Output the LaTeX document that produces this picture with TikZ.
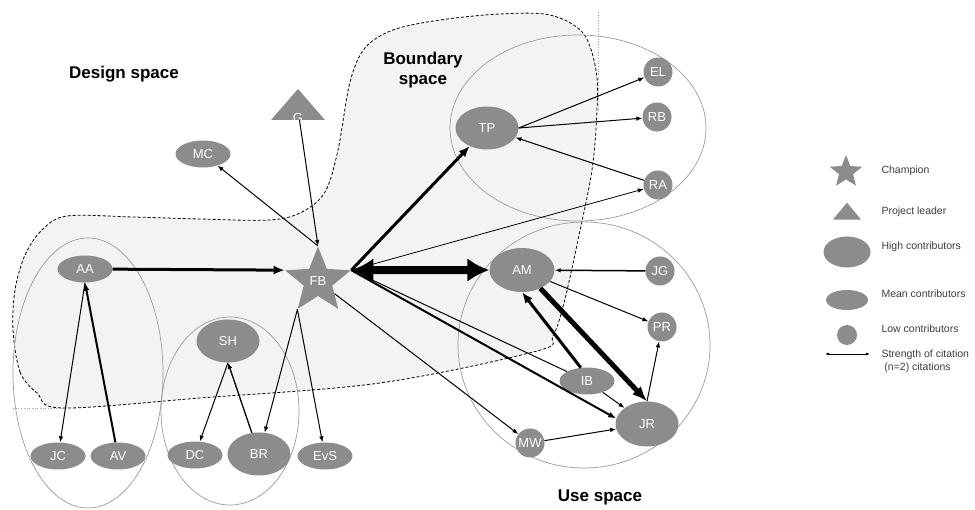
\documentclass[tikz,border=0pt]{standalone}
\usepackage{fontspec}
\setmainfont{Liberation Sans}
\usepackage{xcolor}
\usepackage{tikz}
\usetikzlibrary{shapes.geometric,arrows.meta}

\definecolor{nodegray}{RGB}{140,140,140}
\definecolor{linegray}{RGB}{155,155,155}
\definecolor{zonegray}{RGB}{243,243,243}
\definecolor{textgray}{RGB}{60,60,60}

\begin{document}
\begin{tikzpicture}[
    x=1pt, y=-1pt,
    actor/.style={fill=nodegray, text=white, inner sep=0pt, font=\fontsize{13}{14}\selectfont},
    high/.style={actor, ellipse, minimum width=63pt, minimum height=43pt},
    mean/.style={actor, ellipse, minimum width=55pt, minimum height=27pt},
    low/.style={actor, circle, minimum size=29pt},
    champ/.style={actor, star, star points=5, star point ratio=2.3, minimum size=69pt},
    lead/.style={actor, isosceles triangle, shape border rotate=90, isosceles triangle stretches, minimum width=54pt, minimum height=31pt},
    group/.style={draw=linegray, line width=0.7pt},
    space/.style={font=\bfseries\fontsize{17}{20}\selectfont, align=center},
    legtext/.style={anchor=west, text=textgray, font=\fontsize{10.5}{13}\selectfont},
    cite/.style={-{Latex[length=6pt,width=4.5pt]}, line width=1pt},
    cite2/.style={-{Latex[length=8pt,width=6pt]}, line width=2pt},
    cite3/.style={-{Latex[length=11pt,width=9pt]}, line width=3pt},
    cite5/.style={-{Latex[length=15pt,width=12pt]}, line width=5pt},
    cite8/.style={{Latex[length=22pt,width=24pt]}-{Latex[length=22pt,width=24pt]}, line width=8pt}
]
    \useasboundingbox (0,0) rectangle (975,510);

    % Boundary space
    \filldraw[fill=zonegray, draw=black, dashed, dash pattern=on 3pt off 2pt, line width=0.8pt]
        plot[smooth cycle, tension=0.55] coordinates {
            (13,330) (20,372) (37,393) (62,408) (200,398) (380,383) (537,351)
            (553,336) (564,303) (578,240) (592,170) (597,110) (596,70) (583,33)
            (550,15) (500,14) (440,20) (393,30) (365,48) (350,82) (338,150)
            (325,192) (302,212) (270,220) (200,219) (133,217) (67,216) (42,230)
            (25,255) (15,290)};
    \draw[linegray, dotted, line width=0.7pt] (598,12) -- (598,110);
    \draw[linegray, dotted, line width=0.7pt] (13,408) -- (62,408);

    % Groups
    \draw[group] (88,373) ellipse [x radius=75, y radius=135];
    \draw[group] (230,411) ellipse [x radius=69, y radius=94];
    \draw[group] (578,128) ellipse [x radius=128, y radius=93];
    \draw[group] (584,345) ellipse [x radius=126, y radius=123];

    % Space labels
    \node[space] (design) at (124,74) {Design space};
    \node[space] (boundary) at (423,70) {Boundary\\space};
    \node[space] (use) at (600,497) {Use space};

    % Design space
    \node[champ] (FB) at (318,281) {FB};
    \node[lead] (G) at (298,110) {\raisebox{-13pt}[0pt][0pt]{G}};
    \node[mean] (MC) at (203,154) {MC};
    \node[mean] (AA) at (85,269) {AA};
    \node[mean] (JC) at (58,456) {JC};
    \node[mean] (AV) at (118,456) {AV};
    \node[high] (SH) at (228,341) {SH};
    \node[mean] (DC) at (195,455) {DC};
    \node[high] (BR) at (259,454) {BR};
    \node[mean] (EvS) at (325,456) {EvS};

    % Boundary
    \node[high] (TP) at (487,128) {TP};
    \node[low] (EL) at (658,72) {EL};
    \node[low] (RB) at (657,117) {RB};
    \node[low] (RA) at (658,185) {RA};

    % Use space
    \node[high, minimum width=65pt, minimum height=44pt] (AM) at (522,270) {AM};
    \node[low] (JG) at (660,271) {JG};
    \node[low] (PR) at (662,327) {PR};
    \node[mean] (IB) at (587,381) {IB};
    \node[high, minimum height=45pt] (JR) at (647,424) {JR};
    \node[low] (MW) at (530,443) {MW};

    % Legend
    \node[champ, minimum size=34pt] (legchamp) at (846,172) {};
    \node[lead, minimum width=28pt, minimum height=17pt] (leglead) at (847,213) {};
    \node[high, minimum width=47pt, minimum height=31pt] (leghigh) at (847,252) {};
    \node[mean, minimum width=42pt, minimum height=20pt] (legmean) at (847,300) {};
    \node[low, minimum size=20pt] (leglow) at (847,335) {};
    \coordinate (legA) at (825,354);
    \coordinate (legB) at (870,354);
    \draw[{Latex[length=4pt,width=3pt]}-{Latex[length=4pt,width=3pt]}, line width=0.8pt] (legA) -- (legB);
    \node[legtext] at (878,171) {Champion};
    \node[legtext] at (878,212) {Project leader};
    \node[legtext] at (878,247) {High contributors};
    \node[legtext] at (878,294) {Mean contributors};
    \node[legtext] at (878,329) {Low contributors};
    \node[legtext, align=left] at (878,361) {Strength of citation\\\ (n=2) citations};

    % Arrows
    \draw[cite, {Latex[length=6pt,width=4.5pt]}-] (FB.outer point 1) -- (G);
    \draw[cite] (FB.outer point 1) -- (MC);
    \draw[cite3] (AA) -- (FB.outer point 2);
    \draw[cite] (AA.south) -- (JC);
    \draw[cite2] (AV) -- (AA.south);
    \draw[cite] (SH.south) -- (DC);
    \draw[cite, line width=1.3pt] (BR) -- (SH.south);
    \draw[cite] (FB.outer point 3) -- (BR);
    \draw[cite] (FB.outer point 3) -- (EvS);

    \draw[cite8] (FB.outer point 5) -- (AM);
    \draw[cite3] (FB.outer point 5) -- (TP);
    \draw[cite, line width=0.8pt] (FB.outer point 5) -- (RA);
    \draw[cite] (RA) -- (TP);
    \draw[cite] (TP.east) -- (EL);
    \draw[cite] (TP.east) -- (RB);

    \draw[line width=1pt] (FB.outer point 5) -- (IB);
    \draw[cite2] (FB.outer point 5) -- (JR.170);
    \draw[cite] (FB) -- (MW);
    \draw[cite] (MW) -- (JR);
    \draw[cite3] (IB.115) -- (AM.south);
    \draw[cite5] (AM.-45) -- (JR.north);
    \draw[cite, line width=1.5pt] (JG) -- (AM);
    \draw[cite] (AM) -- (PR);
    \draw[cite] (IB) -- (JR);
    \draw[cite] (JR.north) -- (PR);
\end{tikzpicture}
\end{document}
